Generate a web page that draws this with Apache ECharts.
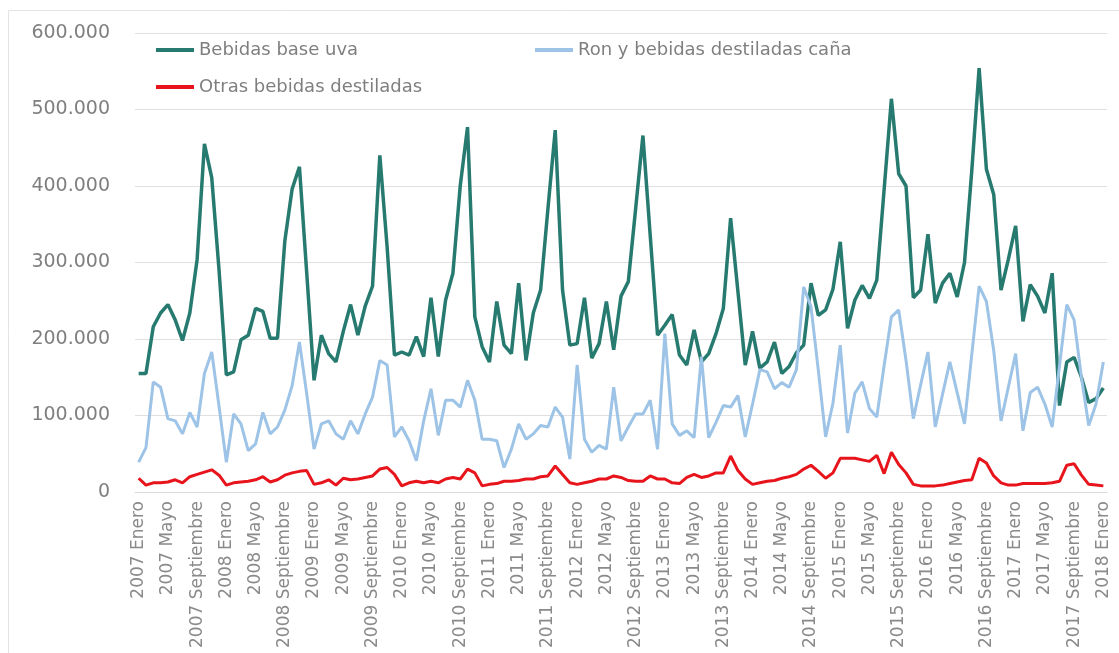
<!DOCTYPE html>
<html>
<head>
<meta charset="utf-8">
<script src="https://cdn.jsdelivr.net/npm/echarts/dist/echarts.min.js"></script>
<style>
html,body{margin:0;padding:0;background:#ffffff;}
#chart{width:1119px;height:653px;}
</style>
</head>
<body>
<div id="chart"></div>
<script>
// ---- Data (values in thousands) ----
const startYear = 2007;
const monthNames = ['Enero','Febrero','Marzo','Abril','Mayo','Junio','Julio','Agosto','Septiembre','Octubre','Noviembre','Diciembre'];
const seriesNames = ['Bebidas base uva', 'Ron y bebidas destiladas caña', 'Otras bebidas destiladas'];

const bebidasBaseUva = [
  155,155,216,234,245,225,198,234,304,455,411,290,
  153,157,199,205,240,236,201,201,328,396,425,286,
  146,205,181,170,210,245,205,243,269,440,320,179,
  183,179,203,177,254,177,251,286,400,477,229,190,
  170,249,192,181,273,172,234,264,370,473,264,192,
  194,254,175,194,249,186,256,275,370,466,335,205,
  218,232,179,166,212,170,181,207,240,358,262,166,
  210,162,170,196,155,164,182,192,273,231,238,265,
  327,214,251,270,253,277,395,514,416,400,254,264,
  337,247,273,286,255,300,420,554,422,389,264,304,
  348,223,271,256,234,286,113,170,176,150,117,122,
  136
];
const ronDestiladasCana = [
  39,58,144,137,96,93,76,104,85,155,183,112,
  39,102,89,54,63,104,76,85,107,139,196,128,
  56,89,93,76,69,93,76,102,124,172,166,72,
  85,67,41,93,135,74,120,120,111,146,120,69,
  69,67,32,56,89,69,76,87,85,111,98,43,
  166,69,52,61,56,137,67,85,102,102,120,56,
  207,89,74,80,71,177,71,91,113,111,126,72,
  115,160,157,135,143,137,160,268,242,159,72,116,
  192,77,129,144,109,98,165,229,238,172,96,140,
  183,85,128,170,130,89,180,269,249,185,93,137,
  181,80,130,137,115,85,165,245,225,150,87,115,
  170
];
const otrasDestiladas = [
  18,9,12,12,13,16,12,20,23,26,29,22,
  9,12,13,14,16,20,13,16,22,25,27,28,
  10,12,16,9,18,16,17,19,21,30,32,23,
  8,12,14,12,14,12,17,19,17,30,25,8,
  10,11,14,14,15,17,17,20,21,34,23,12,
  10,12,14,17,17,21,19,15,14,14,21,17,
  17,12,11,19,23,19,21,25,25,47,28,17,
  10,12,14,15,18,20,23,30,35,27,18,25,
  44,44,44,42,40,48,24,52,36,25,10,8,
  8,8,9,11,13,15,16,44,38,21,12,9,
  9,11,11,11,11,12,14,35,37,22,10,9,
  8
];
const yMin = 0, yMax = 600000, yStep = 100000;

// ---- Build categories ----
const categories = [];
for (let k = 0; k < bebidasBaseUva.length; k++) {
  categories.push((startYear + Math.floor(k / 12)) + ' ' + monthNames[k % 12]);
}
const toUnits = arr => arr.map(v => v * 1000);
const fmt = v => String(v).replace(/\B(?=(\d{3})+(?!\d))/g, '.');

const font = 'DejaVu Sans';
const grey = '#7f7f7f';
const colors = ['#277a6f', '#9dc3e6', '#e8141c'];

const chart = echarts.init(document.getElementById('chart'), null, {renderer: 'canvas'});
const legendBase = {
  orient: 'horizontal', icon: 'rect', itemWidth: 38, itemHeight: 4, padding: 0,
  textStyle: {fontFamily: font, fontSize: 18, color: grey}, selectedMode: false
};
chart.setOption({
  backgroundColor: '#ffffff',
  animation: false,
  color: colors,
  graphic: [{
    type: 'rect', shape: {x: 8.5, y: 10.5, width: 1130, height: 660},
    style: {fill: 'none', stroke: '#e3e3e3', lineWidth: 1}, silent: true
  }],
  legend: [
    Object.assign({}, legendBase, {data: [seriesNames[0]], left: 156, top: 41}),
    Object.assign({}, legendBase, {data: [seriesNames[1]], left: 535, top: 41}),
    Object.assign({}, legendBase, {data: [seriesNames[2]], left: 156, top: 78})
  ],
  grid: {left: 135, right: 12, top: 33, bottom: 161, containLabel: false},
  xAxis: {
    type: 'category',
    data: categories,
    boundaryGap: true,
    axisLine: {show: true, lineStyle: {color: '#d9d9d9', width: 1}},
    axisTick: {show: false},
    axisLabel: {interval: 3, rotate: 90, margin: 9, fontFamily: font, fontSize: 17, color: '#8a8a8a'}
  },
  yAxis: {
    type: 'value', min: yMin, max: yMax, interval: yStep,
    axisLine: {show: false}, axisTick: {show: false},
    splitLine: {lineStyle: {color: '#e0e0e0', width: 1}},
    axisLabel: {margin: 25, fontFamily: font, fontSize: 19, color: grey, formatter: v => fmt(v)}
  },
  series: [
    {name: seriesNames[0], type: 'line', data: toUnits(bebidasBaseUva), symbol: 'none',
     lineStyle: {width: 3.5, color: colors[0]}, itemStyle: {color: colors[0]}},
    {name: seriesNames[1], type: 'line', data: toUnits(ronDestiladasCana), symbol: 'none',
     lineStyle: {width: 3, color: colors[1]}, itemStyle: {color: colors[1]}},
    {name: seriesNames[2], type: 'line', data: toUnits(otrasDestiladas), symbol: 'none',
     lineStyle: {width: 3, color: colors[2]}, itemStyle: {color: colors[2]}}
  ]
});
</script>
</body>
</html>
